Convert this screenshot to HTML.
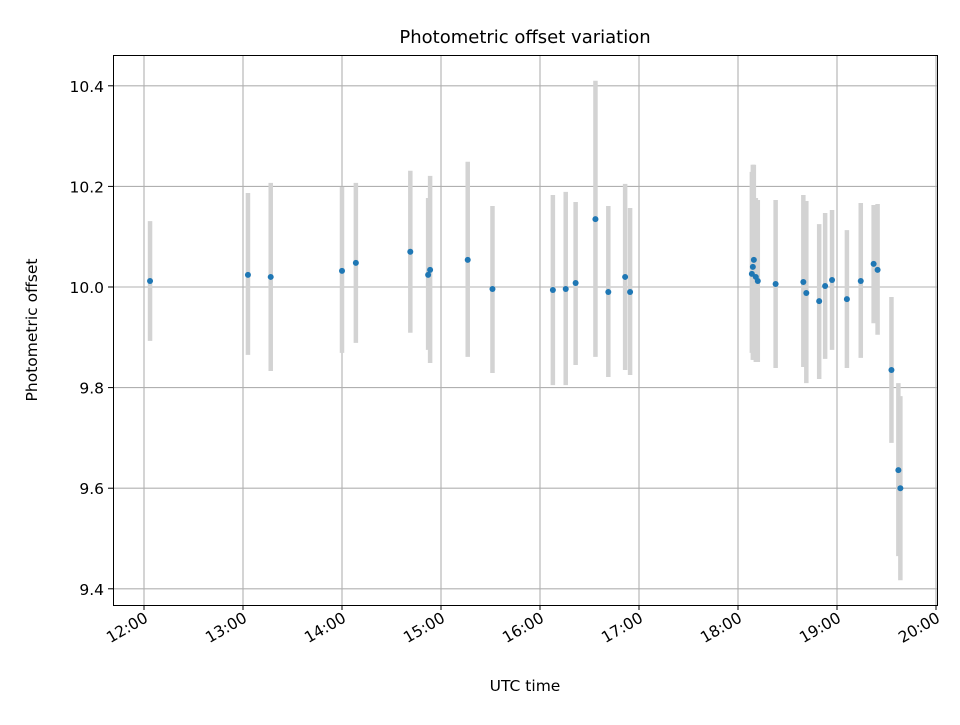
<!DOCTYPE html>
<html><head><meta charset="utf-8"><style>
html,body{margin:0;padding:0;background:#fff;}
svg text{font-family:"DejaVu Sans","Liberation Sans",sans-serif;fill:#000;}
</style></head><body>
<svg id="chart" width="960" height="720" xmlns="http://www.w3.org/2000/svg">
<rect width="960" height="720" fill="#fff"/>
<g id="grid"></g>
<g id="bars"></g>
<g id="pts"></g>
<rect x="113.5" y="55.5" width="824" height="550" fill="none" stroke="#000" stroke-width="1"/>
<g id="ticks"></g>
<text x="525" y="43" font-size="18" text-anchor="middle">Photometric offset variation</text>
<text x="525" y="691" font-size="15.5" text-anchor="middle">UTC time</text>
<text transform="translate(37,330) rotate(-90)" font-size="15.5" text-anchor="middle">Photometric offset</text>
</svg>
<script>
const times=[12.061,13.05,13.28,14.0,14.14,14.69,14.87,14.89,15.27,15.52,16.13,16.26,16.36,16.56,16.69,16.86,16.91,18.14,18.15,18.16,18.18,18.20,18.38,18.66,18.69,18.82,18.88,18.95,19.10,19.24,19.37,19.41,19.55,19.62,19.64];
const values=[10.012,10.024,10.020,10.032,10.048,10.070,10.024,10.034,10.054,9.996,9.994,9.996,10.008,10.135,9.990,10.020,9.990,10.026,10.040,10.054,10.020,10.012,10.006,10.010,9.988,9.972,10.002,10.014,9.976,10.012,10.046,10.034,9.835,9.636,9.600];
const upper=[10.131,10.187,10.207,10.199,10.207,10.231,10.177,10.221,10.249,10.161,10.183,10.189,10.169,10.410,10.161,10.205,10.157,10.229,10.243,10.243,10.177,10.173,10.173,10.183,10.171,10.125,10.147,10.153,10.113,10.167,10.163,10.165,9.980,9.809,9.783];
const lower=[9.893,9.865,9.833,9.869,9.889,9.909,9.875,9.849,9.861,9.829,9.805,9.805,9.845,9.861,9.821,9.835,9.825,9.869,9.855,9.855,9.851,9.851,9.839,9.841,9.809,9.817,9.857,9.875,9.839,9.859,9.928,9.905,9.690,9.465,9.417];
const xTicks=[12,13,14,15,16,17,18,19,20];
const xTickLabels=["12:00","13:00","14:00","15:00","16:00","17:00","18:00","19:00","20:00"];
const yTicks=[9.4,9.6,9.8,10.0,10.2,10.4];
const yTickLabels=["9.4","9.6","9.8","10.0","10.2","10.4"];
const X=h=>144+(h-12)*99;
const Y=v=>287-(v-10)*503;
const NS="http://www.w3.org/2000/svg";
function mk(tag,attrs,parent){const e=document.createElementNS(NS,tag);for(const k in attrs)e.setAttribute(k,attrs[k]);parent.appendChild(e);return e;}
const grid=document.getElementById('grid'),ticks=document.getElementById('ticks'),bars=document.getElementById('bars'),pts=document.getElementById('pts');
xTicks.forEach((t,i)=>{const x=X(t);
 const g=mk('line',{x1:x,x2:x,y1:55,y2:605,stroke:'#b0b0b0','stroke-width':1.1},grid);
 
 const tk=mk('line',{x1:x,x2:x,y1:605,y2:610,stroke:'#000'},ticks);
 
 const tx=mk('text',{transform:`translate(${x+5},${621}) rotate(-30)`,'font-size':15.5,'text-anchor':'end'},ticks);
 tx.textContent=xTickLabels[i];
 
});
yTicks.forEach((t,i)=>{const y=Y(t);
 const g=mk('line',{x1:113,x2:937,y1:y,y2:y,stroke:'#b0b0b0','stroke-width':1.1},grid);
 
 const tk=mk('line',{x1:108,x2:113,y1:y,y2:y,stroke:'#000'},ticks);
 
 const tx=mk('text',{x:104,y:y+6,'font-size':15.5,'text-anchor':'end'},ticks);
 tx.textContent=yTickLabels[i];
 
});
times.forEach((t,i)=>{const x=X(t);
 const b=mk('line',{x1:x,x2:x,y1:Y(upper[i]),y2:Y(lower[i]),stroke:'#d3d3d3','stroke-width':4.5},bars);
 
});
times.forEach((t,i)=>{
 const c=mk('circle',{cx:X(t),cy:Y(values[i]),r:3,fill:'#1f77b4'},pts);
 
});
</script>
</body></html>
